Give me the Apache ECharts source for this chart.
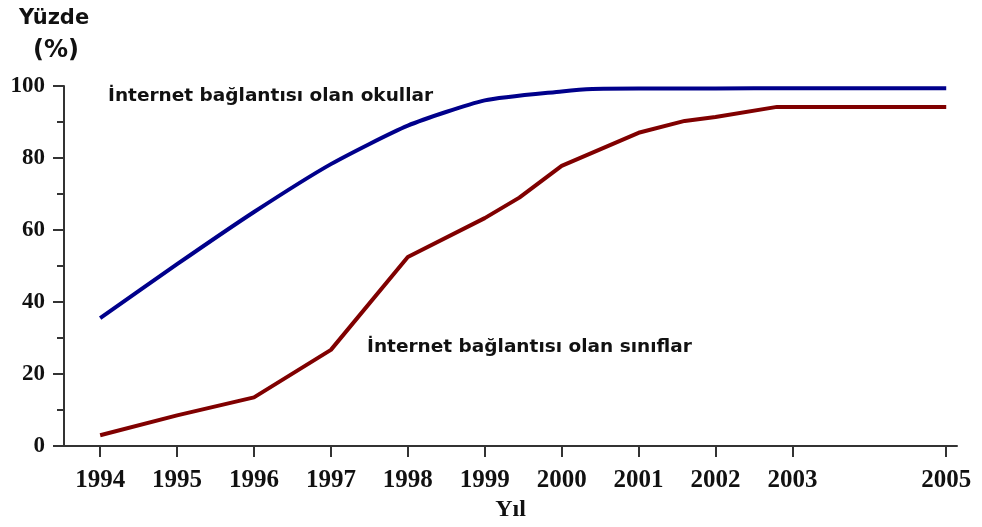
<!DOCTYPE html>
<html lang="tr">
<head>
  <meta charset="UTF-8">
  <title>İnternet bağlantısı</title>
  <script src="https://cdn.jsdelivr.net/npm/echarts@6/dist/echarts.min.js"></script>
  <style>
    html, body { margin: 0; padding: 0; background: #fff; }
    #chart { width: 982px; height: 527px; }
  </style>
</head>
<body>
  <div id="chart"></div>
  <script>
    // tick labels on the x axis (2004 is not labelled in the original)
    const yearTicks = [1994, 1995, 1996, 1997, 1998, 1999, 2000, 2001, 2002, 2003, 2005];

    // okullar (schools) - blue line
    const schoolYears = [1994, 1995, 1996, 1997, 1998, 1999, 2000, 2000.4, 2001, 2002, 2003, 2004, 2005];
    const schoolValues = [35.5, 50.5, 65, 78.3, 89, 96, 98.5, 99.2, 99.3, 99.3, 99.4, 99.4, 99.4];

    // sınıflar (classrooms) - red line
    const classYears = [1994, 1995, 1996, 1997, 1998, 1999, 1999.45, 2000, 2001, 2001.6, 2002, 2002.8, 2003, 2004, 2005];
    const classValues = [3, 8.5, 13.5, 26.7, 52.5, 63.3, 69, 77.8, 87, 90.3, 91.4, 94.2, 94.2, 94.2, 94.2];

    const toPairs = (xs, ys) => xs.map((x, i) => [x, ys[i]]);

    const chart = echarts.init(document.getElementById('chart'));
    const serif = '"Liberation Serif", "Times New Roman", serif';
    const sans = '"DejaVu Sans", Verdana, sans-serif';

    chart.setOption({
      animation: false,
      backgroundColor: '#fff',
      title: [
        { text: 'Yüzde', left: 14, top: 3,
          textStyle: { fontFamily: sans, fontWeight: 'bold', fontSize: 21, color: '#111' } },
        { text: '(%)', left: 28, top: 34,
          textStyle: { fontFamily: sans, fontWeight: 'bold', fontSize: 24, color: '#111' } }
      ],
      grid: { left: 64, right: 25, top: 86, bottom: 81 },
      xAxis: {
        type: 'value',
        min: 1993.53,
        max: 2005.14,
        name: 'Yıl',
        nameLocation: 'middle',
        nameGap: 50,
        nameTextStyle: { fontFamily: serif, fontWeight: 'bold', fontSize: 24, color: '#111' },
        axisLine: { lineStyle: { color: '#333', width: 2 } },
        axisTick: { show: true, length: 11, lineStyle: { color: '#333', width: 2 }, customValues: yearTicks },
        axisLabel: {
          customValues: yearTicks,
          margin: 22,
          formatter: v => String(v),
          fontFamily: serif, fontWeight: 'bold', fontSize: 25, color: '#111'
        },
        splitLine: { show: false }
      },
      yAxis: {
        type: 'value',
        min: 0,
        max: 100,
        interval: 20,
        axisLine: { show: true, lineStyle: { color: '#333', width: 2 } },
        axisTick: { show: true, length: 11, lineStyle: { color: '#333', width: 2 } },
        minorTick: { show: true, splitNumber: 2, length: 7, lineStyle: { color: '#333', width: 2 } },
        axisLabel: { margin: 19, fontFamily: serif, fontWeight: 'bold', fontSize: 23, color: '#111' },
        splitLine: { show: false }
      },
      graphic: [
        { type: 'text', left: 108, top: 87,
          style: { text: 'İnternet bağlantısı olan okullar', fill: '#111',
                   font: 'bold 18.5px ' + sans } },
        { type: 'text', left: 367, top: 338,
          style: { text: 'İnternet bağlantısı olan sınıflar', fill: '#111',
                   font: 'bold 18.5px ' + sans } }
      ],
      series: [
        {
          name: 'okullar',
          type: 'line',
          data: toPairs(schoolYears, schoolValues),
          showSymbol: false,
          smooth: 0.2,
          lineStyle: { color: '#00008b', width: 4 }
        },
        {
          name: 'sınıflar',
          type: 'line',
          data: toPairs(classYears, classValues),
          showSymbol: false,
          lineStyle: { color: '#800000', width: 4 }
        }
      ]
    });
  </script>
</body>
</html>
